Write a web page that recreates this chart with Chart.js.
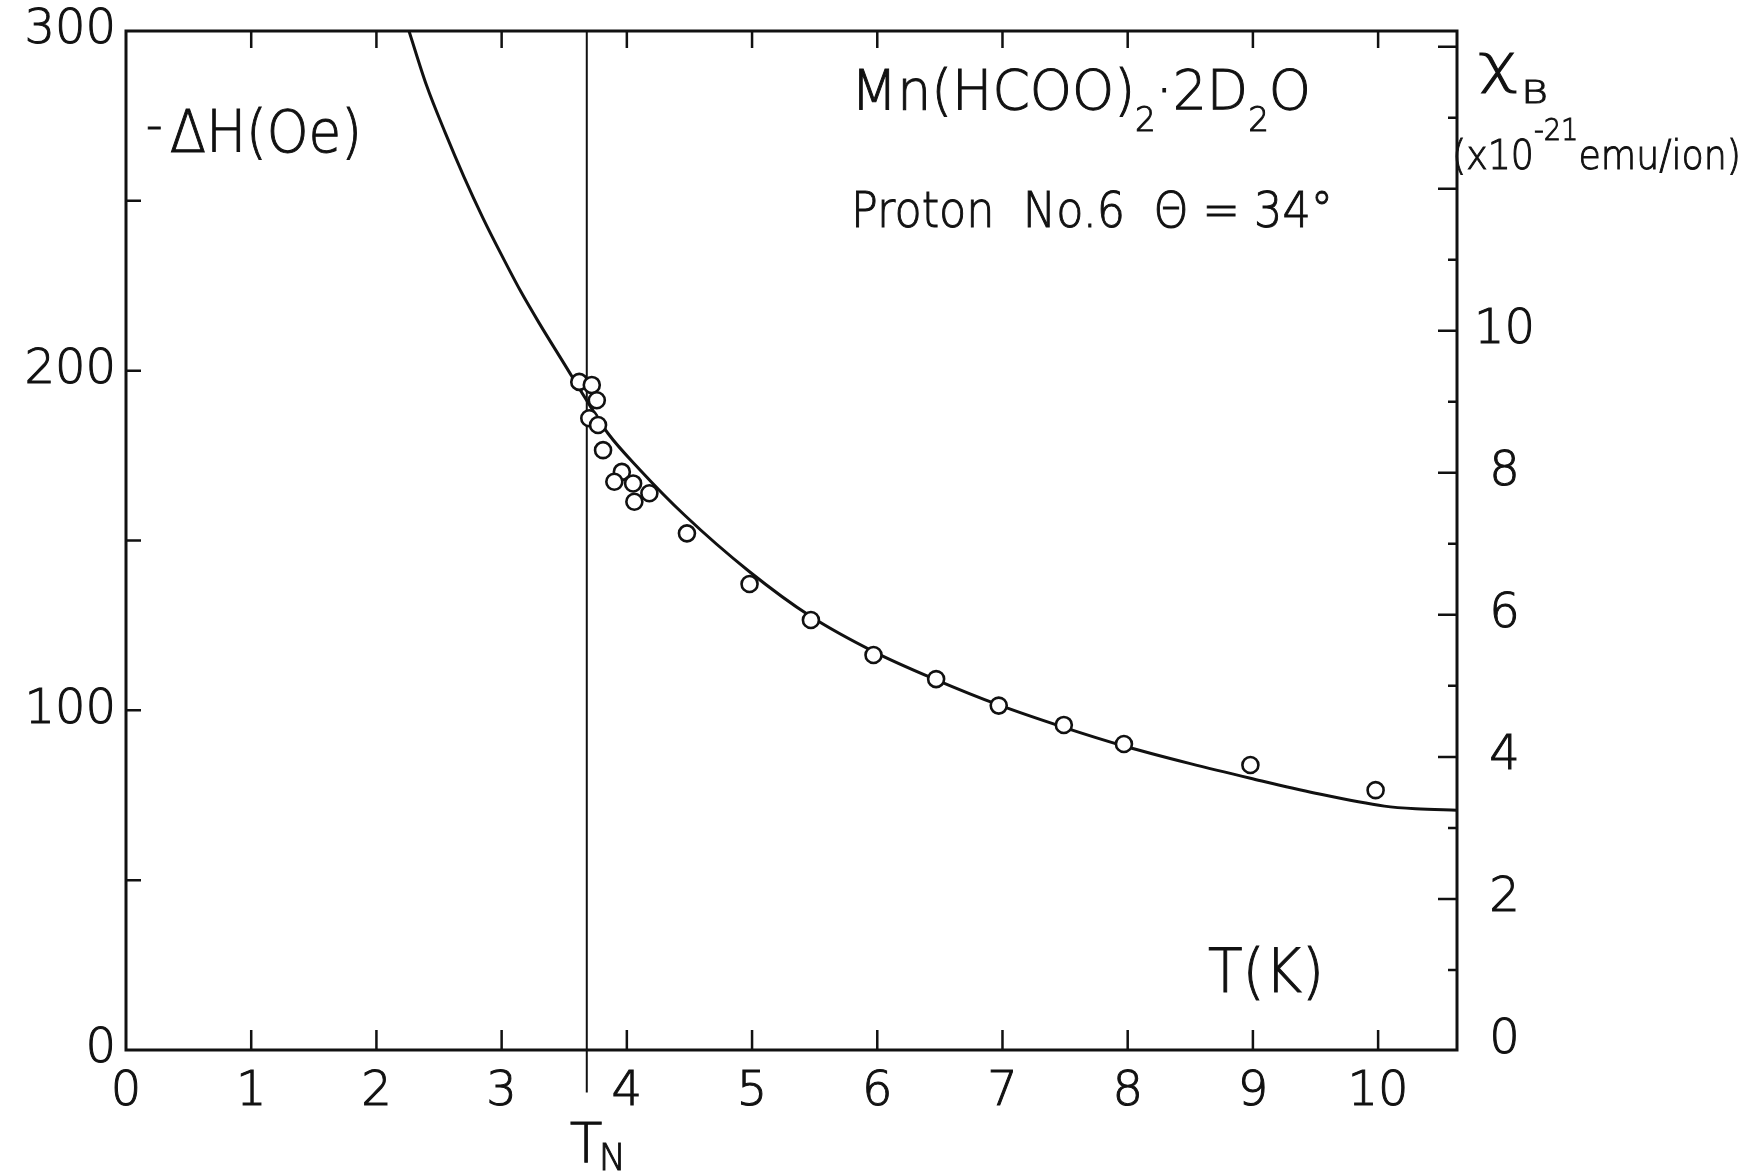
<!DOCTYPE html>
<html>
<head>
<meta charset="utf-8">
<script src="https://cdn.jsdelivr.net/npm/chart.js@4.4.1/dist/chart.umd.min.js"></script>
<style>
  body { margin: 0; background: #fff; }
  #wrap { width: 1750px; height: 1171px; }
</style>
</head>
<body>
<div id="wrap"><canvas id="chart"></canvas></div>
<script>
// measured proton shift (open circles)
var tempPts  = [3.62, 3.72, 3.76, 3.70, 3.77, 3.81, 3.96, 3.90, 4.05, 4.18, 4.06, 4.48, 4.98, 5.47, 5.97, 6.47, 6.97, 7.49, 7.97, 8.98, 9.98];
var shiftPts = [196.7, 195.8, 191.3, 186.0, 184.0, 176.6, 170.2, 167.3, 166.8, 163.9, 161.4, 152.1, 137.2, 126.6, 116.3, 109.2, 101.4, 95.7, 90.1, 83.9, 76.5];

// calculated curve
var tempCurve  = [2.26, 2.40, 2.55, 2.70, 2.85, 3.00, 3.15, 3.30, 3.50, 3.70, 3.85, 4.10, 4.46, 4.98, 5.47, 5.97, 6.47, 6.97, 7.49, 7.97, 8.50, 8.98, 9.50, 10.05, 10.30, 10.63];
var shiftCurve = [300, 284, 270, 257, 245, 234, 223.5, 214, 202, 190, 181.5, 171, 157.5, 140.8, 127.6, 117.3, 109.0, 101.6, 95.0, 89.5, 84.3, 80.0, 75.6, 71.8, 71.0, 70.6];

// Neel temperature marker
var tN = 3.68;
var tNLineY = [300, -12.5];

// axes
var xRange = [0, 10.63];
var yRange = [0, 300];
var chiRange = [-0.127, 14.22];
var xTickLabels = [0, 1, 2, 3, 4, 5, 6, 7, 8, 9, 10];
var yTickLabels = [0, 100, 200, 300];
var chiTickLabels = [0, 2, 4, 6, 8, 10];
var xTickMarks = [1, 2, 3, 4, 5, 6, 7, 8, 9, 10];
var yTickMarks = [50, 100, 150, 200, 250];
var chiTickMarks = [1, 2, 3, 4, 5, 6, 7, 8, 9, 10, 11, 12, 13, 14];

var FONT = '"DejaVu Sans", sans-serif';
var WEIGHT = 200;
var INK = '#111';

function toXY(xs, ys) {
  return xs.map(function(v, i) { return { x: v, y: ys[i] }; });
}

function fixedTicks(list) {
  return function(scale) {
    scale.ticks = list.map(function(v) { return { value: v }; });
  };
}

// draw a row of text pieces [text, size, dy, gap], stretched to a given width
function drawRuns(ctx, x, base, runs, width) {
  var total = 0;
  runs.forEach(function(r) {
    ctx.font = WEIGHT + ' ' + r[1] + 'px ' + FONT;
    total += ctx.measureText(r[0]).width + (r[3] || 0);
  });
  ctx.save();
  ctx.translate(x, base);
  ctx.scale(width ? width / total : 1, 1);
  var cx = 0;
  runs.forEach(function(r) {
    ctx.font = WEIGHT + ' ' + r[1] + 'px ' + FONT;
    ctx.fillText(r[0], cx, r[2] || 0);
    ctx.strokeText(r[0], cx, r[2] || 0);
    cx += ctx.measureText(r[0]).width + (r[3] || 0);
  });
  ctx.restore();
}

var framePlugin = {
  id: 'frame',
  afterDraw: function(chart) {
    var ctx = chart.ctx, a = chart.chartArea;
    var sx = chart.scales.x, sy = chart.scales.y, sc = chart.scales.y2;
    ctx.save();
    ctx.strokeStyle = INK;
    ctx.lineWidth = 3;
    ctx.strokeRect(a.left, a.top, a.right - a.left, a.bottom - a.top);

    ctx.lineWidth = 2.5;
    ctx.beginPath();
    xTickMarks.forEach(function(v) {
      var px = sx.getPixelForValue(v);
      ctx.moveTo(px, a.bottom); ctx.lineTo(px, a.bottom - 20);
      ctx.moveTo(px, a.top); ctx.lineTo(px, a.top + 17);
    });
    yTickMarks.forEach(function(v) {
      var py = sy.getPixelForValue(v);
      ctx.moveTo(a.left, py); ctx.lineTo(a.left + 15, py);
    });
    chiTickMarks.forEach(function(v) {
      var py = sc.getPixelForValue(v);
      ctx.moveTo(a.right, py); ctx.lineTo(a.right - (v % 2 ? 9 : 19), py);
    });
    ctx.stroke();

    // texts
    ctx.fillStyle = INK;
    ctx.lineWidth = 1;
    ctx.textAlign = 'left';
    ctx.textBaseline = 'alphabetic';
    drawRuns(ctx, 146, 152, [['-', 50, -10, 8], ['\u0394H(Oe)', 58, 0]], 216);
    drawRuns(ctx, 851, 109, [['Mn(HCOO)', 56, 0], ['2', 34, 22], ['\u00b72D', 56, 0], ['2', 34, 22], ['O', 56, 0]], 460);
    drawRuns(ctx, 851, 227, [['Proton  No.6  \u0398 = 34\u00b0', 50, 0]], 482);
    drawRuns(ctx, 1208, 992, [['T(K)', 60, 0]], 116);
    drawRuns(ctx, 1478, 82, [['\u03c7', 54, 0, 2], ['B', 32, 21]], 70);
    drawRuns(ctx, 1452, 169, [['(x10', 40, 0], ['-21', 30, -29], ['emu/ion)', 40, 0]], 289);
    var tx = sx.getPixelForValue(tN);
    drawRuns(ctx, tx - 17, 1162, [['T', 56, 0, -4], ['N', 38, 8]], 56);
    ctx.restore();
  }
};

var tickFont = { family: FONT, size: 48, weight: WEIGHT };

new Chart(document.getElementById('chart').getContext('2d'), {
  data: {
    datasets: [
      {
        type: 'scatter',
        data: toXY(tempPts, shiftPts),
        pointRadius: 8,
        pointBorderWidth: 2.6,
        pointBorderColor: INK,
        pointBackgroundColor: '#fff',
        order: 0
      },
      {
        type: 'line',
        data: toXY(tempCurve, shiftCurve),
        borderColor: INK,
        borderWidth: 3,
        pointRadius: 0,
        cubicInterpolationMode: 'monotone',
        fill: false,
        order: 1
      },
      {
        type: 'line',
        data: toXY([tN, tN], tNLineY),
        borderColor: INK,
        borderWidth: 2,
        pointRadius: 0,
        clip: false,
        order: 2
      }
    ]
  },
  options: {
    responsive: true,
    maintainAspectRatio: false,
    animation: false,
    layout: { padding: { top: 31, left: 0, right: 0, bottom: 0 } },
    plugins: { legend: { display: false }, tooltip: { enabled: false } },
    scales: {
      x: {
        type: 'linear', position: 'bottom',
        min: xRange[0], max: xRange[1],
        afterBuildTicks: fixedTicks(xTickLabels),
        afterFit: function(s) { s.height = 121; s.paddingLeft = 0; s.paddingRight = 0; },
        grid: { display: false, drawTicks: false },
        border: { display: false },
        ticks: { color: INK, font: tickFont, padding: 14, maxRotation: 0, autoSkip: false,
                 textStrokeColor: INK, textStrokeWidth: 1 }
      },
      y: {
        type: 'linear', position: 'left',
        min: yRange[0], max: yRange[1],
        afterBuildTicks: fixedTicks(yTickLabels),
        afterFit: function(s) { s.width = 126; s.paddingTop = 0; s.paddingBottom = 0; },
        grid: { display: false, drawTicks: false },
        border: { display: false },
        ticks: { color: INK, font: tickFont, padding: 10, textStrokeColor: INK, textStrokeWidth: 1 }
      },
      y2: {
        type: 'linear', position: 'right',
        min: chiRange[0], max: chiRange[1],
        afterBuildTicks: fixedTicks(chiTickLabels),
        afterFit: function(s) { s.width = 293; s.paddingTop = 0; s.paddingBottom = 0; },
        grid: { display: false, drawTicks: false },
        border: { display: false },
        ticks: { color: INK, font: tickFont, padding: 17, crossAlign: 'center',
                 textStrokeColor: INK, textStrokeWidth: 1 }
      }
    }
  },
  plugins: [framePlugin]
});
</script>
</body>
</html>
